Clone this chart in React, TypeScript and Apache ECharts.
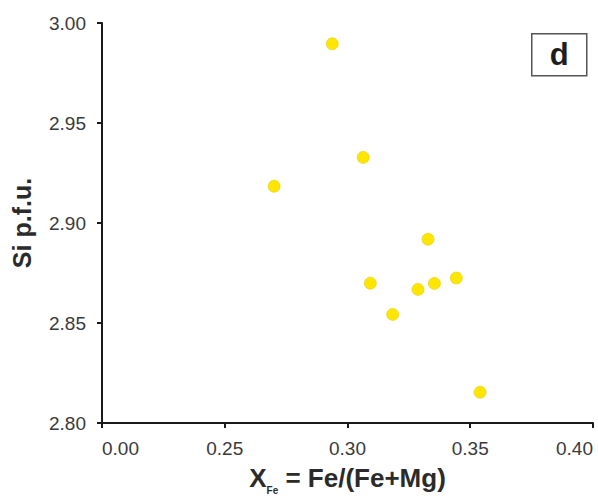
import React, { useEffect, useRef } from "react";
import * as echarts from "echarts";

// X_Fe = Fe/(Fe+Mg) values
const xFe: number[] = [0.2938, 0.3064, 0.2701, 0.3328, 0.3093, 0.3287, 0.3354, 0.3443, 0.3184, 0.354];
// Si p.f.u. values
const siPfu: number[] = [2.9896, 2.9328, 2.9184, 2.8919, 2.8699, 2.8668, 2.8698, 2.8725, 2.8543, 2.8154];
// Broken x axis: first tick represents 0.00
const xTickLabels: string[] = ["0.00", "0.25", "0.30", "0.35", "0.40"];
const yTickLabels: string[] = ["2.80", "2.85", "2.90", "2.95", "3.00"];
const panelLabel = "d";

const FONT = "'Liberation Sans', Arial, Helvetica, sans-serif";

export default function App() {
  const ref = useRef<HTMLDivElement>(null);

  useEffect(() => {
    document.body.style.margin = "0";
    if (!ref.current) return;
    const chart = echarts.init(ref.current, null, { renderer: "svg" });
    const data = xFe.map((x, i) => [x, siPfu[i]]);
    chart.setOption({
      animation: false,
      backgroundColor: "#ffffff",
      textStyle: { fontFamily: FONT },
      grid: { left: 102, right: 5, top: 23, bottom: 73, containLabel: false },
      xAxis: {
        type: "value",
        min: 0.2,
        max: 0.4,
        interval: 0.05,
        name: "{b|X}{sub|Fe}{b| = Fe/(Fe+Mg)}",
        nameLocation: "middle",
        nameGap: 38,
        nameTextStyle: {
          rich: {
            b: { fontSize: 26, fontWeight: "bold", color: "#2b2b2b", fontFamily: FONT, lineHeight: 34 },
            sub: { fontSize: 10, fontWeight: "bold", color: "#2b2b2b", fontFamily: FONT, lineHeight: 10, verticalAlign: "bottom" },
          },
        },
        axisLine: { show: true, onZero: false, lineStyle: { color: "#1a1a1a", width: 2 } },
        axisTick: { show: true, inside: false, length: 5, lineStyle: { color: "#1a1a1a", width: 2 } },
        splitLine: { show: false },
        axisLabel: {
          fontSize: 19,
          color: "#3a3a3a",
          fontFamily: FONT,
          margin: 16,
          alignMinLabel: "left",
          alignMaxLabel: "right",
          formatter: (_v: number, i: number) => xTickLabels[i] ?? "",
        },
      },
      yAxis: {
        type: "value",
        min: 2.8,
        max: 3.0,
        interval: 0.05,
        name: "Si p.f.u.",
        nameLocation: "middle",
        nameGap: 68,
        nameTextStyle: { fontSize: 25, fontWeight: "bold", color: "#2b2b2b", fontFamily: FONT },
        axisLine: { show: true, onZero: false, lineStyle: { color: "#1a1a1a", width: 2 } },
        axisTick: { show: true, inside: false, length: 5, lineStyle: { color: "#1a1a1a", width: 2 } },
        splitLine: { show: false },
        axisLabel: {
          fontSize: 19,
          color: "#3a3a3a",
          fontFamily: FONT,
          margin: 16,
          formatter: (_v: number, i: number) => yTickLabels[i] ?? "",
        },
      },
      series: [
        {
          type: "scatter",
          data,
          symbol: "circle",
          symbolSize: 12,
          itemStyle: { color: "#FFE600", borderColor: "#E0CC00", borderWidth: 0.6, opacity: 1 },
        },
      ],
      graphic: [
        {
          type: "group",
          left: 531,
          top: 33,
          children: [
            {
              type: "rect",
              shape: { x: 0, y: 0, width: 55, height: 42 },
              style: { fill: "#ffffff", stroke: "#555555", lineWidth: 1.5 },
            },
            {
              type: "text",
              x: 27.5,
              y: 21,
              style: {
                text: panelLabel,
                fontSize: 31,
                fontWeight: "bold",
                fontFamily: FONT,
                fill: "#1e1e1e",
                align: "center",
                verticalAlign: "middle",
              },
            },
          ],
        },
      ],
    });
    return () => chart.dispose();
  }, []);

  return (
    <div
      ref={ref}
      style={{ position: "absolute", left: 0, top: 0, width: 598, height: 500 }}
    />
  );
}
